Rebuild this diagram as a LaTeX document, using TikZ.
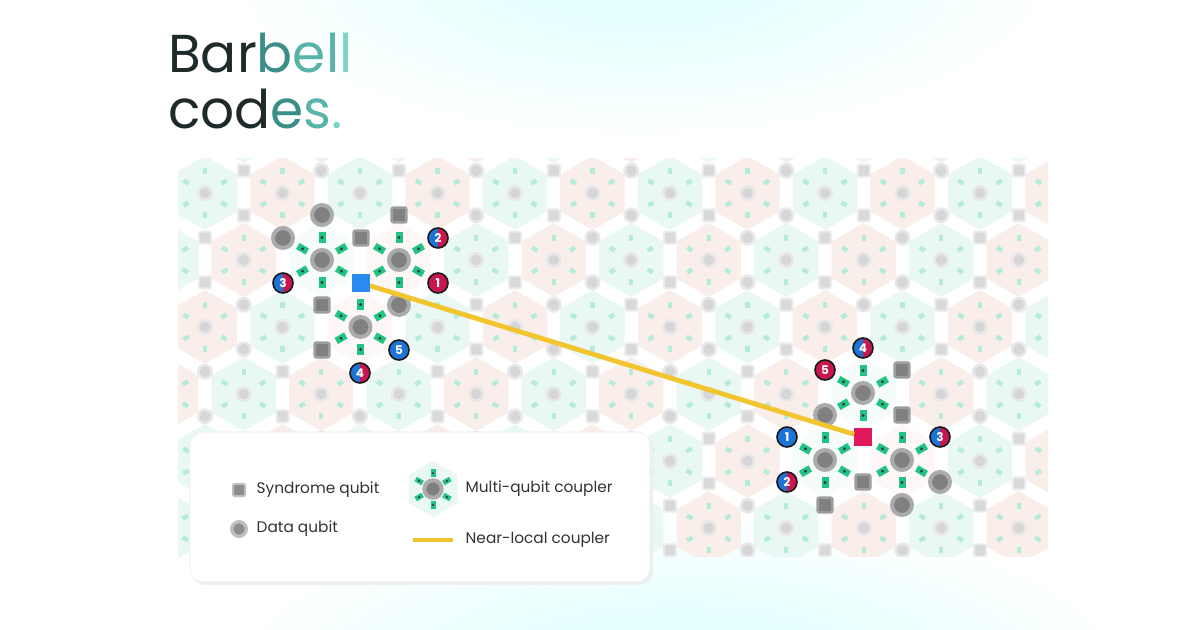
\documentclass[tikz,border=0pt]{standalone}
\usepackage{fontspec}
\setmainfont{Poppins}
\definecolor{tdark}{HTML}{1E2A2A}
\definecolor{tA}{HTML}{3C8F88}
\definecolor{tB}{HTML}{58B3A8}
\definecolor{tC}{HTML}{7DD3C6}
\definecolor{hexpink}{HTML}{FAEEEB}
\definecolor{hexcyan}{HTML}{E9F8F4}
\definecolor{cpl}{HTML}{B5EBD9}
\definecolor{cplhl}{HTML}{22C483}
\definecolor{bblue}{HTML}{1C74D6}
\definecolor{bred}{HTML}{C8174E}
\definecolor{sqblue}{HTML}{2A8AF0}
\definecolor{sqred}{HTML}{E0195A}
\definecolor{ylw}{HTML}{F2C42E}
\tikzset{
 sqbg/.style={rectangle,rounded corners=1pt,fill=black!15,draw=black!8,line width=1.5pt,minimum size=9pt,inner sep=0pt},
 cbg/.style={circle,fill=black!16,draw=black!9,line width=2pt,minimum size=10pt,inner sep=0pt},
 sqhl/.style={rectangle,rounded corners=1.5pt,fill=black!50,draw=black!38,line width=2pt,minimum size=11pt,inner sep=0pt},
 chl/.style={circle,fill=black!50,draw=black!33,line width=3pt,minimum size=15pt,inner sep=0pt},
 badge/.style={circle,draw=black!90,line width=1.2pt,minimum size=15pt,inner sep=0pt,text=white,font=\bfseries\fontsize{9}{9}\selectfont},
 bR/.style={badge,fill=bred},
 bB/.style={badge,fill=bblue},
 bS/.style={badge,fill=bred,path picture={\fill[bblue] (path picture bounding box.south west) rectangle (path picture bounding box.north);}},
 lbl/.style={anchor=west,font=\fontsize{11.5}{13}\selectfont,text=black!80},
}
\begin{document}
\begin{tikzpicture}[x=0.75pt,y=-0.75pt]
\useasboundingbox (0,0) rectangle (1200,629);
\fill[white] (0,0) rectangle (1200,629);
\begin{scope}
\clip (0,0) rectangle (1200,629);
\shade[inner color=cyan!14!white,outer color=white] (640,-30) ellipse (420 and 170);
\shade[inner color=cyan!16!white,outer color=white] (680,680) ellipse (460 and 170);
\end{scope}
% title
\node[anchor=base west,inner sep=0,font=\fontsize{40}{40}\selectfont] (t1) at (168,72) {\textcolor{tdark}{Bar}\textcolor{tA}{b}\textcolor{tB}{e}\textcolor{tB}{l}\textcolor{tC}{l}};
\node[anchor=base west,inner sep=0,font=\fontsize{40}{40}\selectfont] (t2) at (168,128) {\textcolor{tdark}{cod}\textcolor{tA}{e}\textcolor{tB}{s}\textcolor{tC}{.}};
% lattice
\begin{scope}
\clip (178,158) rectangle (1048,556);
\foreach \j in {-1,...,6}{\foreach \m in {-1,...,12}{
 \pgfmathsetmacro\cx{205+77.5*(\m+0.5*Mod(\j,2))}
 \pgfmathsetmacro\cy{193+67*\j}
 \pgfmathtruncatemacro\pp{Mod(\m-floor(\j/2)+\j,2)}
 \ifnum\pp=1 \fill[hexpink,shift={(\cx,\cy)}] (90:37)--(150:37)--(210:37)--(270:37)--(330:37)--(30:37)--cycle;
 \else \fill[hexcyan,shift={(\cx,\cy)}] (90:37)--(150:37)--(210:37)--(270:37)--(330:37)--(30:37)--cycle; \fi
}}
\foreach \j in {-1,...,6}{\foreach \m in {-1,...,12}{
 \pgfmathsetmacro\cx{205+77.5*(\m+0.5*Mod(\j,2))}
 \pgfmathsetmacro\cy{193+67*\j}
 \pgfmathtruncatemacro\pp{Mod(\m-floor(\j/2)+\j,2)}
 \foreach \a in {30,90,...,330}{\fill[cpl,shift={(\cx,\cy)},rotate=\a] (19,-2.2) rectangle (25,2.2);}
 \node[cbg] at (\cx,\cy) {};
 \pgfmathsetmacro\uy{\cy-44.7}
 \pgfmathsetmacro\dy{\cy+44.7}
 \ifnum\pp=0 \node[cbg] at (\cx,\uy) {}; \node[sqbg] at (\cx,\dy) {};
 \else \node[sqbg] at (\cx,\uy) {}; \node[cbg] at (\cx,\dy) {}; \fi
}}
\end{scope}
% highlighted couplers
\foreach \cx/\cy in {322/260,399/260,360.5/327,863/393,825/460,902/460}{
 \fill[white,opacity=0.6,shift={(\cx,\cy)}] (90:42)--(150:42)--(210:42)--(270:42)--(330:42)--(30:42)--cycle;
 \foreach \a in {30,90,...,330}{\fill[cplhl,shift={(\cx,\cy)},rotate=\a] (17,-3.5) rectangle (28,3.5); \fill[black!80,shift={(\cx,\cy)},rotate=\a] (22.5,0) circle (1.6);}
 \node[chl] at (\cx,\cy) {};
}
\foreach \x/\y in {322/215,283/238,399/305,825/415,902/505,940/482}{\node[chl] at (\x,\y) {};}
\foreach \x/\y in {399/215,361/238,322/305,322/350,902/370,902/415,825/505,863/482}{\node[sqhl] at (\x,\y) {};}
% special squares
\node[rectangle,fill=sqblue,minimum size=13pt,inner sep=0] (bsq) at (361,283) {};
\node[rectangle,fill=sqred,minimum size=13pt,inner sep=0] (rsq) at (863,437) {};
\draw[ylw,line width=3.6pt] (bsq) -- (rsq);
\node[rectangle,fill=sqblue,minimum size=13pt,inner sep=0] at (361,283) {};
% badges
\node[bR] (l1) at (438,283) {1};
\node[bS] (l2) at (438,238) {2};
\node[bS] (l3) at (283,283) {3};
\node[bS] (l4) at (360,373) {4};
\node[bB] (l5) at (399,350) {5};
\node[bB] (r1) at (787,437) {1};
\node[bS] (r2) at (787,482) {2};
\node[bS] (r3) at (940,437) {3};
\node[bS] (r4) at (863,348) {4};
\node[bR] (r5) at (825,370) {5};
% legend
\fill[black!6,rounded corners=10pt] (192,436) rectangle (653,585);
\filldraw[fill=white,draw=black!8,rounded corners=10pt] (190,432) rectangle (650,582);
\node[sqbg,fill=black!45,draw=black!25] (ls) at (239,490) {};
\node[lbl] (lst) at (252,490) {Syndrome qubit};
\node[cbg,fill=black!45,draw=black!25,line width=2.5pt,minimum size=11pt] (lc) at (239,529) {};
\node[lbl] (lct) at (252,529) {Data qubit};
\fill[hexcyan,shift={(433,489)}] (90:28)--(150:28)--(210:28)--(270:28)--(330:28)--(30:28)--cycle;
\foreach \a in {30,90,...,330}{\fill[cplhl,shift={(433,489)},rotate=\a] (12,-2.5) rectangle (20,2.5);\fill[black!80,shift={(433,489)},rotate=\a] (16,0) circle (1.2);}
\node[chl,minimum size=13pt] (lm) at (433,489) {};
\node[lbl] (lmt) at (461,489) {Multi-qubit coupler};
\coordinate (ya) at (413,540);
\coordinate (yb) at (453,540);
\draw[ylw,line width=3pt] (ya) -- (yb);
\node[lbl] (lyt) at (461,540) {Near-local coupler};
\end{tikzpicture}
\end{document}
